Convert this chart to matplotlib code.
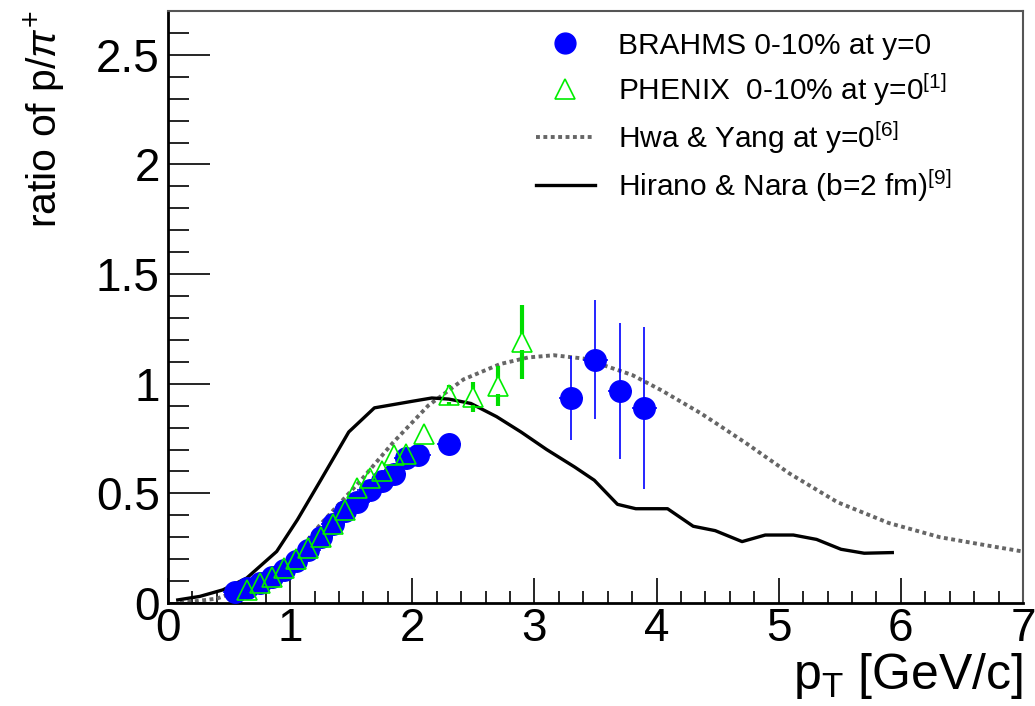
import matplotlib
matplotlib.use("Agg")
import matplotlib.pyplot as plt
import numpy as np
from matplotlib.ticker import MultipleLocator
from matplotlib.lines import Line2D

plt.rcParams['font.family'] = ['Liberation Sans', 'DejaVu Sans']
plt.rcParams['mathtext.fontset'] = 'custom'
plt.rcParams['mathtext.rm'] = 'Liberation Sans'
plt.rcParams['mathtext.it'] = 'Liberation Sans:italic'
plt.rcParams['mathtext.bf'] = 'Liberation Sans:bold'

# BRAHMS 0-10% at y=0
brahms_pt = [0.55, 0.65, 0.75, 0.85, 0.95, 1.05, 1.15, 1.25, 1.35, 1.45, 1.55,
             1.65, 1.75, 1.85, 1.95, 2.05, 2.3, 3.3, 3.5, 3.7, 3.9]
brahms_ratio = [0.05, 0.07, 0.09, 0.12, 0.15, 0.19, 0.24, 0.30, 0.36, 0.42, 0.46,
                0.515, 0.555, 0.59, 0.66, 0.675, 0.725, 0.935, 1.11, 0.965, 0.89]
brahms_err = [0.01, 0.01, 0.01, 0.01, 0.01, 0.01, 0.01, 0.01, 0.01, 0.01, 0.01,
              0.01, 0.01, 0.015, 0.015, 0.02, 0.03, 0.19, 0.27, 0.31, 0.37]

# PHENIX 0-10% at y=0
phenix_pt = [0.65, 0.75, 0.85, 0.95, 1.05, 1.15, 1.25, 1.35, 1.45, 1.55, 1.65,
             1.75, 1.85, 1.95, 2.1, 2.3, 2.5, 2.7, 2.9]
phenix_ratio = [0.06, 0.09, 0.12, 0.16, 0.20, 0.25, 0.30, 0.36, 0.425, 0.525, 0.57,
                0.60, 0.675, 0.68, 0.77, 0.95, 0.94, 0.99, 1.19]
phenix_err = [0.005, 0.005, 0.005, 0.005, 0.005, 0.005, 0.01, 0.01, 0.01, 0.01, 0.01,
              0.01, 0.015, 0.015, 0.02, 0.045, 0.07, 0.09, 0.17]

# Hwa & Yang at y=0
hwa_pt = [0.1, 0.4, 0.65, 0.85, 1.0, 1.25, 1.58, 1.84, 2.13, 2.42, 2.72, 2.95, 3.16,
          3.4, 3.59, 3.8, 4.04, 4.36, 4.5, 4.73, 5.09, 5.48, 5.9, 6.32, 6.73, 7.05]
hwa_ratio = [0.0, 0.02, 0.07, 0.14, 0.19, 0.36, 0.56, 0.73, 0.90, 1.02, 1.09, 1.12, 1.13,
             1.115, 1.08, 1.04, 0.97, 0.866, 0.815, 0.73, 0.59, 0.46, 0.365, 0.30, 0.26, 0.23]

# Hirano & Nara (b=2 fm)
hir_pt = [0.08, 0.26, 0.45, 0.645, 0.89, 1.06, 1.25, 1.48, 1.69, 2.0, 2.16, 2.3, 2.48,
          2.69, 2.89, 3.10, 3.33, 3.49, 3.68, 3.83, 4.09, 4.30, 4.48, 4.70, 4.89, 5.12,
          5.31, 5.51, 5.70, 5.93]
hir_ratio = [0.014, 0.03, 0.06, 0.114, 0.235, 0.38, 0.56, 0.78, 0.89, 0.92, 0.935, 0.93,
             0.91, 0.85, 0.78, 0.70, 0.62, 0.56, 0.45, 0.43, 0.43, 0.35, 0.33, 0.28, 0.31,
             0.31, 0.29, 0.245, 0.227, 0.23]

labels = ['BRAHMS 0-10% at y=0',
          r'PHENIX  0-10% at y=0$^{[1]}$',
          r'Hwa & Yang at y=0$^{[6]}$',
          r'Hirano & Nara (b=2 fm)$^{[9]}$']

fig = plt.figure(figsize=(10.35, 7.06), dpi=100)
ax = fig.add_axes([0.1623, 0.1459, 0.8261, 0.8385])

ax.plot(hwa_pt, hwa_ratio, color='#666666', lw=2.8, ls=(0, (1, 0.9)), zorder=2)
ax.plot(hir_pt, hir_ratio, color='black', lw=2.4, zorder=2)

ax.errorbar(brahms_pt, brahms_ratio, yerr=brahms_err, xerr=0.1, fmt='o',
            color='blue', ms=15.5, mec='blue', mfc='blue', elinewidth=1.2,
            capsize=0, zorder=3)

# PHENIX error bars drawn outside hollow markers
pp = np.array(phenix_pt)
pr = np.array(phenix_ratio)
pe = np.array(phenix_err)
gap = 0.035
mask = pe > gap
ax.vlines(pp[mask], pr[mask] + gap, pr[mask] + pe[mask], color='#00dd00', lw=3, zorder=4)
ax.vlines(pp[mask], pr[mask] - pe[mask], pr[mask] - gap, color='#00dd00', lw=3, zorder=4)
ax.plot(pp, pr, ls='none', marker='^', ms=15, mfc='none', mec='#00ee00', mew=1.2, zorder=5)

ax.set_xlim(0, 7)
ax.set_ylim(0, 2.7)
ax.xaxis.set_major_locator(MultipleLocator(1))
ax.xaxis.set_minor_locator(MultipleLocator(0.2))
ax.yaxis.set_major_locator(MultipleLocator(0.5))
ax.yaxis.set_minor_locator(MultipleLocator(0.1))
ax.tick_params(axis='both', which='both', direction='in', top=False, right=False,
               labelsize=33, width=1.2, color='black')
ax.tick_params(axis='x', which='major', length=18, pad=3)
ax.tick_params(axis='x', which='minor', length=9)
ax.tick_params(axis='y', which='major', length=30, pad=6)
ax.tick_params(axis='y', which='minor', length=15)
ax.set_yticks([0, 0.5, 1, 1.5, 2, 2.5])
ax.set_yticklabels(['0', '0.5', '1', '1.5', '2', '2.5'])

for s in ['left', 'bottom']:
    ax.spines[s].set_linewidth(2)
    ax.spines[s].set_color('black')
for s in ['top', 'right']:
    ax.spines[s].set_linewidth(1.5)
    ax.spines[s].set_color('#555555')

ax.set_ylabel(r'ratio of p/$\pi^{+}$', fontsize=29.5, loc='top')
ax.yaxis.set_label_coords(-0.117, 1.0)
ax.set_xlabel(r'p$_{\rm T}$ [GeV/c]', fontsize=36, loc='right', labelpad=0)

handles = [Line2D([], [], ls='none', marker='o', ms=15, color='blue'),
           Line2D([], [], ls='none', marker='^', ms=15, mfc='none', mec='#00ee00', mew=1.2),
           Line2D([], [], color='#666666', lw=2.8, ls=(0, (1, 0.9))),
           Line2D([], [], color='black', lw=2.4)]
ax.legend(handles, labels, loc='upper left', bbox_to_anchor=(0.43, 0.965),
          frameon=False, fontsize=21.5, handlelength=2.0, handletextpad=0.75,
          labelspacing=0.38, borderpad=0, borderaxespad=0)

fig.savefig('out.png', dpi=100)
